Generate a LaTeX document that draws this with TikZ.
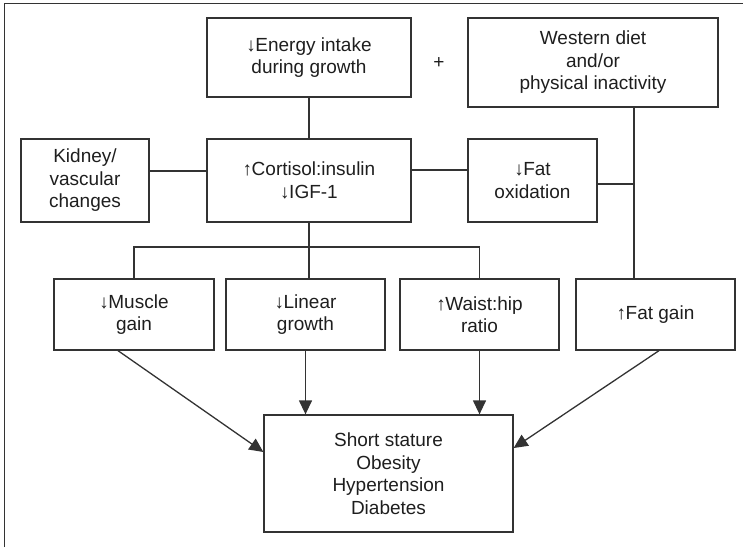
\documentclass[tikz,border=0pt]{standalone}
\usepackage{fontspec}
\setmainfont{Liberation Sans}
\usetikzlibrary{arrows.meta}
\definecolor{linec}{HTML}{333333}
\definecolor{textc}{HTML}{1E1E1E}
\newcommand{\up}{\char"2191\kern-0.5pt}
\newcommand{\dn}{\char"2193\kern-0.5pt}
\begin{document}
\begin{tikzpicture}[x=1pt,y=-1pt,
  box/.style={draw=linec,line width=1.3pt,inner sep=0pt,align=center,
    text=textc,font=\fontsize{19}{22.5}\selectfont},
  conn/.style={draw=linec,line width=1.3pt},
  arr/.style={conn,-{Triangle[length=14pt,width=13pt]}}]
\useasboundingbox (0,0) rectangle (743,547);
% frame
\draw[linec,line width=1.5pt] (4.5,547) -- (4.5,3.5) -- (743,3.5);
% nodes
\node[box,minimum width=204pt,minimum height=79pt] (energy) at (309,57.5) {\dn Energy intake\\during growth};
\node[box,minimum width=250pt,minimum height=89pt] (western) at (593,62.5) {Western diet\\and/or\\physical inactivity};
\node[text=textc,font=\fontsize{19}{22.5}\selectfont,inner sep=0pt] (plus) at (439,63) {+};
\node[box,minimum width=128pt,minimum height=83pt] (kidney) at (85,180.5) {Kidney/\\vascular\\changes};
\node[box,minimum width=204pt,minimum height=83pt] (cortisol) at (309,180.5) {\up Cortisol:insulin\\\dn IGF-1};
\node[box,minimum width=129pt,minimum height=83pt] (fatox) at (532.5,180.5) {\dn Fat\\oxidation};
\node[box,minimum width=160pt,minimum height=71pt] (muscle) at (134,314.5) {\dn Muscle\\gain};
\node[box,minimum width=159pt,minimum height=71pt] (linear) at (305.5,314.5) {\dn Linear\\growth};
\node[box,minimum width=159pt,minimum height=71pt] (waist) at (479.5,314.5) {\up Waist:hip\\ratio};
\node[box,minimum width=159pt,minimum height=71pt] (fatgain) at (655.5,314.5) {\up Fat gain};
\node[box,minimum width=249pt,minimum height=117pt] (outcome) at (388.5,473.5) {Short stature\\Obesity\\Hypertension\\Diabetes};
% helper coordinates
\coordinate (wx) at (634,184);
\coordinate (bus) at (309,247);
% connectors
\draw[conn] (energy.south) -- (cortisol.north);
\draw[conn] ([yshift=9.5pt]kidney.east) -- ([yshift=9.5pt]cortisol.west);
\draw[conn] ([yshift=10.5pt]cortisol.east) -- ([yshift=10.5pt]fatox.west);
\draw[conn] (western.south -| wx) -- (fatgain.north -| wx);
\draw[conn] (fatox.east |- wx) -- (wx);
\draw[conn] (cortisol.south) -- (cortisol.south |- linear.north);
\draw[conn] (muscle.north) |- (bus) -| (waist.north);
% arrows
\draw[arr] ([xshift=-16pt]muscle.south) -- ([yshift=21.5pt]outcome.west);
\draw[arr] (linear.south) -- (linear.south |- outcome.north);
\draw[arr] (waist.south) -- (waist.south |- outcome.north);
\draw[arr] ([xshift=3.5pt]fatgain.south) -- ([yshift=25.5pt]outcome.east);
\end{tikzpicture}
\end{document}
